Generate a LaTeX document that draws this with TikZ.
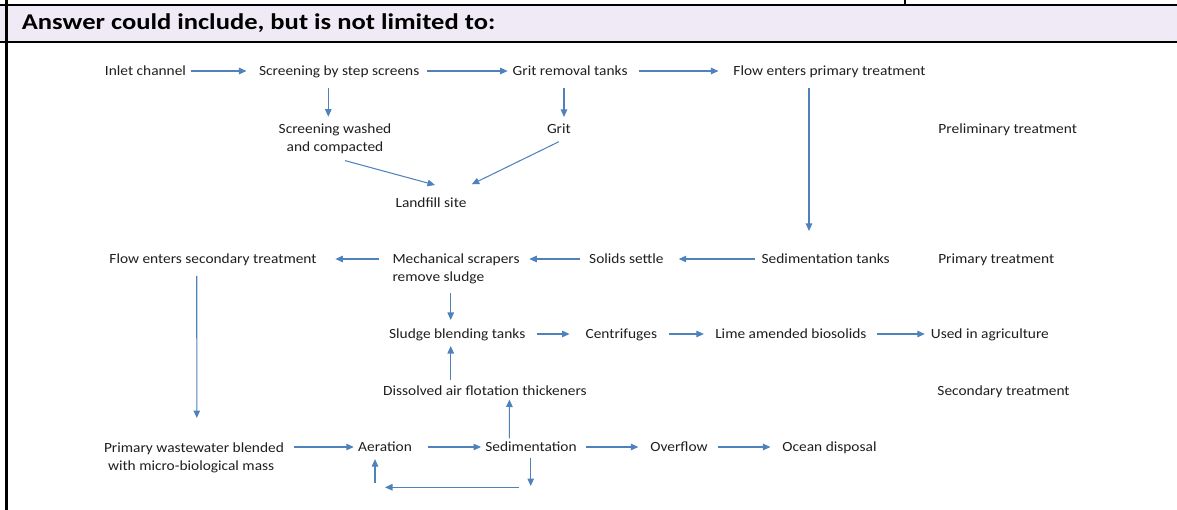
\documentclass[tikz,border=0pt]{standalone}
\usepackage{fontspec}
\setmainfont{Carlito}[FakeStretch=1.1]
\newfontfamily\hdrfont{Carlito}[FakeStretch=1.18]
\usetikzlibrary{arrows.meta}
\definecolor{arrblue}{HTML}{4F81BD}
\definecolor{hdrfill}{HTML}{EFEAF5}
\definecolor{txt}{HTML}{1E1E1E}
\tikzset{
  lbl/.style={anchor=base, inner sep=0pt, outer sep=0pt, text=txt, font=\fontsize{14}{18}\selectfont},
  mlbl/.style={inner sep=0pt, outer sep=0pt, text=txt, font=\fontsize{14}{18}\selectfont},
  arr/.style={draw=arrblue, line width=1.05pt, -{Triangle[length=7.5pt,width=6.5pt]}},
  rule/.style={line width=2.6pt, draw=black}
}
\begin{document}
\begin{tikzpicture}[x=1pt,y=-1pt]
\useasboundingbox (0,0) rectangle (1177,510);
% frame and header
\fill[hdrfill] (0,5) rectangle (1177,42);
\draw[rule] (0,5) -- (1177,5);
\draw[rule] (0,42) -- (1177,42);
\draw[rule] (6.5,0) -- (6.5,510);
\draw[line width=2pt] (905,0) -- (905,5);
\node[anchor=base west, inner sep=0pt, font=\hdrfont\bfseries\fontsize{22.5}{26}\selectfont] (hdr) at (21.7,30) {Answer could include, but is not limited to:};

% row reference coordinates
\coordinate (row1) at (0,71);
\coordinate (row2) at (0,259);
\coordinate (row3) at (0,334);
\coordinate (row5) at (0,447);

% nodes
\node[lbl] (inlet) at (145.5,76) {Inlet channel};
\node[lbl] (scr) at (339.2,76) {Screening by step screens};
\node[lbl] (gritrem) at (570.1,76) {Grit removal tanks};
\node[lbl] (fprim) at (829.5,76) {Flow enters primary treatment};
\node[mlbl, anchor=north, align=center] (wash) at (335,120.7) {\strut Screening washed\\\strut and compacted};
\node[lbl] (grit) at (558.9,133.3) {Grit};
\node[lbl] (prelim) at (1007.7,133.3) {Preliminary treatment};
\node[lbl] (landfill) at (431,207.7) {Landfill site};

\node[lbl] (fsec) at (213,264) {Flow enters secondary treatment};
\node[mlbl, anchor=north west, align=left] (mech) at (392.5,251.4) {\strut Mechanical scrapers\\\strut remove sludge};
\node[lbl] (settle) at (626.4,264) {Solids settle};
\node[lbl] (sedt) at (825.7,264) {Sedimentation tanks};
\node[lbl] (primt) at (996.2,264) {Primary treatment};

\node[lbl] (blend) at (457.2,338.5) {Sludge blending tanks};
\node[lbl] (cent) at (621.3,338.5) {Centrifuges};
\node[lbl] (lime) at (790.9,338.5) {Lime amended biosolids};
\node[lbl] (agri) at (989.9,338.5) {Used in agriculture};

\node[lbl] (daf) at (484.9,395) {Dissolved air flotation thickeners};
\node[lbl] (sect) at (1003.5,395) {Secondary treatment};

\node[mlbl, anchor=north west, align=left] (pww) at (104,439.4) {\strut Primary wastewater blended\\\strut\hspace*{4pt}with micro-biological mass};
\node[lbl] (aer) at (385,451.7) {Aeration};
\node[lbl] (sedi) at (531,451.7) {Sedimentation};
\node[lbl] (over) at (679,451.7) {Overflow};
\node[lbl] (ocean) at (829.5,451.7) {Ocean disposal};

% loop coordinates
\coordinate (ldown) at (530.7,486);
\coordinate (lright) at (519,487.3);
\coordinate (lleft) at (385,487.3);
\coordinate (lup) at (375,483.3);

% row 1 horizontal arrows
\draw[arr, shorten <=4.7pt, shorten >=12.6pt] (inlet.east |- row1) -- (scr.west |- row1);
\draw[arr, shorten <=7.7pt, shorten >=5pt] (scr.east |- row1) -- (gritrem.west |- row1);
\draw[arr, shorten <=11.5pt, shorten >=15pt] (gritrem.east |- row1) -- (fprim.west |- row1);
% row 1 verticals and diagonals
\draw[arr] ([shift={(-10.9,12.3)}]scr.base) -- ([shift={(-6.7,-4)}]wash.north);
\draw[arr] ([shift={(-6.1,12.3)}]gritrem.base) -- ([shift={(5.1,-16.3)}]grit.base);
\draw[arr] ([shift={(10,3.9)}]wash.south) -- ([shift={(4,-22.7)}]landfill.base);
\draw[arr] ([shift={(0,8.4)}]grit.base) -- ([shift={(40.7,-23.4)}]landfill.base);
\draw[arr] ([shift={(-20.5,12.3)}]fprim.base) -- ([shift={(-16.7,-33)}]sedt.base);

% row 2 horizontal arrows
\draw[arr, shorten <=7.1pt, shorten >=15.1pt] (sedt.west |- row2) -- (settle.east |- row2);
\draw[arr, shorten <=8.9pt, shorten >=9.7pt] (settle.west |- row2) -- (mech.east |- row2);
\draw[arr, shorten <=13.5pt, shorten >=18.8pt] (mech.west |- row2) -- (fsec.east |- row2);
% verticals
\draw[arr] ([shift={(58.2,5.9)}]mech.south west) -- ([shift={(-6.5,-18.5)}]blend.base);
\draw[arr] ([shift={(-34.2,-15)}]daf.base) -- ([shift={(-6.5,7.5)}]blend.base);
\draw[arr] ([shift={(-16.25,12)}]fsec.base) -- ([shift={(92.8,-21.4)}]pww.north west);

% row 3 horizontal arrows
\draw[arr, shorten <=11.6pt, shorten >=16pt] (blend.east |- row3) -- (cent.west |- row3);
\draw[arr, shorten <=12.1pt, shorten >=11.4pt] (cent.east |- row3) -- (lime.west |- row3);
\draw[arr, shorten <=10.7pt, shorten >=6.1pt] (lime.east |- row3) -- (agri.west |- row3);

% row 5 horizontal arrows
\draw[arr, shorten <=10pt, shorten >=4.4pt] (pww.east |- row5) -- (aer.west |- row5);
\draw[arr, shorten <=16pt, shorten >=4.3pt] (aer.east |- row5) -- (sedi.west |- row5);
\draw[arr, shorten <=9.6pt, shorten >=12pt] (sedi.east |- row5) -- (over.west |- row5);
\draw[arr, shorten <=10pt, shorten >=12pt] (over.east |- row5) -- (ocean.west |- row5);
\draw[arr] ([shift={(-21.7,-13.4)}]sedi.base) -- ([shift={(24.5,4.5)}]daf.base);

% recycle loop
\draw[arr] ([shift={(-0.3,6.3)}]sedi.base) -- (ldown);
\draw[arr] (lright) -- (lleft);
\draw[arr] (lup) -- ([shift={(-10,7.4)}]aer.base);
\end{tikzpicture}
\end{document}
